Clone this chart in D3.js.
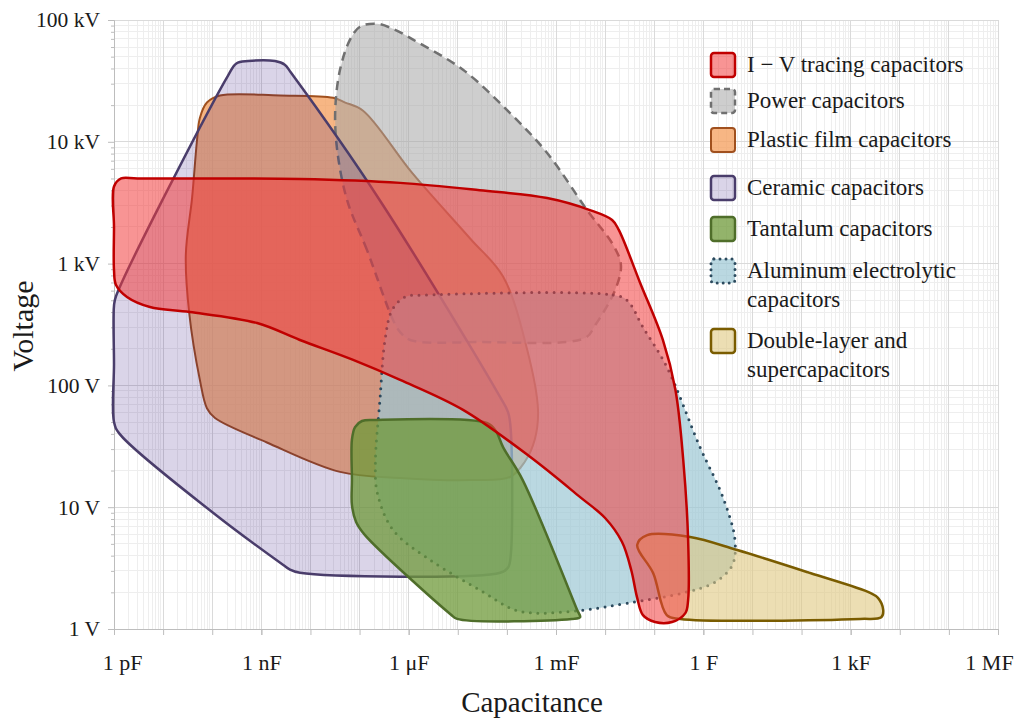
<!DOCTYPE html>
<meta charset="utf-8">
<script src="https://d3js.org/d3.v7.min.js"></script>
<style>
  body { margin: 0; background: #fff; }
  text { font-family: "Liberation Serif", "Times New Roman", serif; fill: #1a1a1a; }
</style>
<div id="my_dataviz"></div>
<script>
// outlines: [capacitance in F, voltage in V]
var ivTracing = [[1e-12, 4.3e3], [1.4e-12, 5.0e3], [3e-12, 5.0e3], [6.1e-9, 4.95e3], [6.7e-7, 4.6e3], [2.8e-5, 4.0e3],
  [6.6e-4, 3.45e3], [4.9e-3, 2.75e3], [1.39e-2, 2.28e3], [1.9e-2, 1.89e3], [5.2e-2, 690], [0.15, 236],
  [0.27, 92], [0.39, 24.4], [0.49, 5.4], [0.49, 1.73], [0.43, 1.35], [0.23, 1.14], [0.104, 1.14],
  [5.9e-2, 1.3], [4.5e-2, 1.8], [3.4e-2, 3.05], [2.2e-2, 5.2], [1e-2, 8.15], [3.1e-3, 12.1], [3.0e-4, 25.8],
  [1.28e-5, 63], [6.7e-7, 111], [7.4e-8, 162], [6.1e-9, 236], [8.2e-10, 325], [3.5e-11, 401],
  [5.4e-12, 440], [1.84e-12, 532], [1.1e-12, 667], [1e-12, 884], [1e-12, 2.0e3]];

var powerCaps = [[4.8e-7, 344], [1.42e-7, 1.29e3], [5.6e-8, 3.3e3], [3.5e-8, 8.6e3], [3.2e-8, 1.82e4],
  [4.0e-8, 3.9e4], [6.4e-8, 6.9e4], [1.02e-7, 8.8e4], [2.3e-7, 9.3e4], [5.3e-7, 8.3e4], [1.23e-6, 6.9e4],
  [1.28e-5, 3.9e4], [1.16e-4, 1.72e4], [6.6e-4, 8.1e3], [4.3e-3, 2.75e3], [1.46e-2, 1.42e3],
  [2.1e-2, 970], [1.6e-2, 607], [6.3e-3, 313], [3.9e-3, 245], [2.8e-5, 227], [1.07e-6, 236], [6.7e-7, 274]];

var plasticFilm = [[7.8e-11, 2.1e4], [1.44e-10, 2.4e4], [2.4e-9, 2.4e4], [2.9e-8, 2.3e4], [5.1e-8, 2.1e4],
  [1.18e-7, 1.8e4], [1.2e-6, 5.5e3], [1.8e-5, 1.6e3], [8.4e-5, 780], [2.6e-4, 195], [4.3e-4, 63],
  [3.7e-4, 36], [2.3e-4, 23.5], [1.16e-4, 17.7], [1.8e-5, 16.7], [6.7e-7, 17.4], [4.0e-8, 19.5],
  [1.3e-9, 34], [1.14e-10, 54], [7.8e-11, 65], [5.6e-11, 111], [3.4e-11, 393], [2.9e-11, 1.18e3],
  [3.9e-11, 3.5e3], [4.9e-11, 1.03e4], [5.6e-11, 1.57e4]];

var ceramic = [[1e-12, 450], [1.1e-12, 540], [2.1e-10, 3.5e4], [3.1e-10, 4.4e4], [5.4e-10, 4.6e4],
  [1.9e-9, 4.6e4], [3.0e-9, 4.3e4], [4.0e-9, 3.7e4], [2.6e-7, 3.3e3], [7.3e-5, 80], [1.06e-4, 60],
  [1.2e-4, 43], [1.2e-4, 4.05], [1.06e-4, 3.2], [7.3e-5, 2.9], [6.1e-9, 2.9], [3.7e-9, 3.1],
  [2.8e-9, 3.35], [1.04e-10, 9.0], [1.3e-12, 40], [1e-12, 50], [1e-12, 150]];

var tantalum = [[7.0e-8, 36], [8.1e-8, 45.5], [1.12e-7, 51], [2.1e-7, 52], [4.0e-5, 49], [6.0e-5, 42],
  [8.4e-5, 31], [2.1e-4, 16.7], [2.7e-3, 1.43], [3.1e-3, 1.25], [2.1e-3, 1.21], [9.7e-6, 1.21],
  [7.0e-6, 1.33], [1.29e-7, 5.9], [8.5e-8, 7.56], [7.0e-8, 10.4], [7.0e-8, 16.7]];

var aluminum = [[2.4e-6, 552], [1.46e-2, 552], [2.8e-2, 500], [5.9e-2, 301], [0.18, 142], [0.86, 31],
  [2.5, 12.1], [4.4, 5.4], [3.9, 3.35], [1.74, 2.43], [0.39, 1.98], [2.8e-2, 1.63], [3.6e-3, 1.43],
  [4.1e-4, 1.35], [1.47e-4, 1.43], [2.8e-5, 2.09], [2.7e-6, 3.7], [4.8e-7, 6.5], [2.3e-7, 13.1],
  [2.1e-7, 23], [2.6e-7, 76], [3.3e-7, 236], [4.6e-7, 416], [8.5e-7, 532]];

var doubleLayer = [[4.5e-2, 4.9], [7.2e-2, 5.9], [0.54, 5.7], [4.9, 4.45], [150, 2.88], [2.5e3, 1.98],
  [3.6e3, 1.8], [4.6e3, 1.43], [4.2e3, 1.25], [1.56e3, 1.21], [0.34, 1.21], [0.18, 1.3], [9.5e-2, 2.88]];

var seriesNames = ["I − V tracing capacitors", "Power capacitors", "Plastic film capacitors",
  "Ceramic capacitors", "Tantalum capacitors", "Aluminum electrolytic capacitors",
  "Double-layer and supercapacitors"];
var legendLines = [["I − V tracing capacitors"], ["Power capacitors"], ["Plastic film capacitors"],
  ["Ceramic capacitors"], ["Tantalum capacitors"], ["Aluminum electrolytic", "capacitors"],
  ["Double-layer and", "supercapacitors"]];

var xTickValues = [1e-12, 1e-9, 1e-6, 1e-3, 1, 1e3, 1e6];
var xTickLabels = ["1 pF", "1 nF", "1 μF", "1 mF", "1 F", "1 kF", "1 MF"];
var yTickValues = [1, 10, 100, 1e3, 1e4, 1e5];
var yTickLabels = ["1 V", "10 V", "100 V", "1 kV", "10 kV", "100 kV"];

// styles, same order as seriesNames
var styles = [
  {fill: "#f23c3c", op: 0.55, stroke: "#c00000", width: 2.5, dash: null},
  {fill: "#a6a6a6", op: 0.55, stroke: "#707070", width: 2.5, dash: "9,6"},
  {fill: "#f5a262", op: 0.78, stroke: "#a0501e", width: 2, dash: null},
  {fill: "#250278", op: 0.17, stroke: "#4a3d6b", width: 2.5, dash: null},
  {fill: "#6f9a3a", op: 0.75, stroke: "#4f6e2a", width: 2.5, dash: null},
  {fill: "#9cc8d4", op: 0.7, stroke: "#2c4a5e", width: 3, dash: "0,7.5", cap: "round"},
  {fill: "#e0c880", op: 0.6, stroke: "#7a5c00", width: 2.5, dash: null}
];
var outlines = [ivTracing, powerCaps, plasticFilm, ceramic, tantalum, aluminum, doubleLayer];
var drawOrder = [2, 1, 3, 5, 4, 6, 0];

var margin = {top: 20, left: 114},
    width = 884,
    height = 609;
// small horizontal nudges of the bottom labels, as in the picture
var xLabelNudge = [8, 0, 0, 0, 0, 0, -9];

var svg = d3.select("#my_dataviz")
  .append("svg")
  .attr("width", 1018)
  .attr("height", 718);

var g = svg.append("g")
  .attr("transform", "translate(" + margin.left + "," + margin.top + ")");

var x = d3.scaleLog().domain([1e-12, 1e6]).range([0, width]);
var y = d3.scaleLog().domain([1, 1e5]).range([height, 0]);

// grid values (decades and 2..9 in between)
var xMajor = [], xMinor = [], yMajor = [], yMinor = [];
d3.range(-12, 7).forEach(function(e) {
  xMajor.push(Math.pow(10, e));
  if (e < 6) d3.range(2, 10).forEach(function(k) { xMinor.push(k * Math.pow(10, e)); });
});
d3.range(0, 6).forEach(function(e) {
  yMajor.push(Math.pow(10, e));
  if (e < 5) d3.range(2, 10).forEach(function(k) { yMinor.push(k * Math.pow(10, e)); });
});

var grid = g.append("g").attr("shape-rendering", "crispEdges");
grid.selectAll(".xmin").data(xMinor).enter().append("line")
  .attr("x1", function(d) { return x(d); }).attr("x2", function(d) { return x(d); })
  .attr("y1", 0).attr("y2", height).attr("stroke", "#eeeeee");
grid.selectAll(".ymin").data(yMinor).enter().append("line")
  .attr("y1", function(d) { return y(d); }).attr("y2", function(d) { return y(d); })
  .attr("x1", 0).attr("x2", width).attr("stroke", "#eeeeee");
grid.selectAll(".xmaj").data(xMajor).enter().append("line")
  .attr("x1", function(d) { return x(d); }).attr("x2", function(d) { return x(d); })
  .attr("y1", 0).attr("y2", height).attr("stroke", "#dadada");
grid.selectAll(".ymaj").data(yMajor).enter().append("line")
  .attr("y1", function(d) { return y(d); }).attr("y2", function(d) { return y(d); })
  .attr("x1", 0).attr("x2", width).attr("stroke", "#dadada");

// axes
function styleAxis(sel) {
  sel.selectAll("path, line").attr("stroke", "#bdbdbd");
  sel.selectAll("text").attr("fill", "#1a1a1a").style("font-family", "'Liberation Serif', serif");
  sel.attr("font-size", 22);
}
g.append("g").attr("transform", "translate(0," + height + ")")
  .call(d3.axisBottom(x).tickValues(xMajor).tickSize(6).tickSizeOuter(0).tickFormat(""))
  .call(styleAxis);
var xLab = g.append("g").attr("transform", "translate(0," + height + ")")
  .call(d3.axisBottom(x).tickValues(xTickValues).tickSize(6).tickSizeOuter(0).tickPadding(19)
    .tickFormat(function(d, i) { return xTickLabels[i]; }))
  .call(styleAxis);
xLab.selectAll(".tick text").attr("dx", function(d, i) { return xLabelNudge[i]; });
g.append("g")
  .call(d3.axisLeft(y).tickValues(yMinor).tickSize(3).tickSizeOuter(0).tickFormat(""))
  .call(styleAxis);
g.append("g")
  .call(d3.axisLeft(y).tickValues(yTickValues).tickSize(6).tickSizeOuter(0).tickPadding(8)
    .tickFormat(function(d, i) { return yTickLabels[i]; }))
  .call(styleAxis)
  .attr("font-size", 21.5);

// shapes
g.append("clipPath").attr("id", "plot-clip")
  .append("rect").attr("x", -3).attr("y", -3).attr("width", width + 6).attr("height", height + 6);

var outline = d3.line()
  .x(function(d) { return x(d[0]); })
  .y(function(d) { return y(d[1]); })
  .curve(d3.curveCatmullRomClosed.alpha(0.5));

var shapes = g.append("g").attr("clip-path", "url(#plot-clip)");
drawOrder.forEach(function(i) {
  var s = styles[i];
  shapes.append("path")
    .datum(outlines[i])
    .attr("d", outline)
    .attr("fill", s.fill)
    .attr("fill-opacity", s.op)
    .attr("stroke", s.stroke)
    .attr("stroke-width", s.width)
    .attr("stroke-linejoin", "round")
    .attr("stroke-linecap", s.cap || "butt")
    .attr("stroke-dasharray", s.dash);
});

// axis titles
svg.append("text")
  .attr("x", 532).attr("y", 712)
  .attr("text-anchor", "middle")
  .attr("font-size", 29)
  .text("Capacitance");
svg.append("text")
  .attr("transform", "translate(33,326) rotate(-90)")
  .attr("text-anchor", "middle")
  .attr("font-size", 30)
  .text("Voltage");

// legend
var legendTops = [52, 88, 127, 175, 216, 258, 328];
var legend = svg.append("g");
seriesNames.forEach(function(name, i) {
  var s = styles[i];
  var item = legend.append("g").attr("transform", "translate(710," + legendTops[i] + ")");
  item.append("rect")
    .attr("x", 1).attr("y", 1).attr("width", 24).attr("height", 24).attr("rx", 3)
    .attr("fill", s.fill).attr("fill-opacity", s.op)
    .attr("stroke", s.stroke).attr("stroke-width", s.width)
    .attr("stroke-linecap", s.cap || "butt")
    .attr("stroke-dasharray", s.dash ? (s.cap ? "0,6" : "6,4") : null);
  legendLines[i].forEach(function(line, j) {
    item.append("text")
      .attr("x", 37).attr("y", 20 + j * 29)
      .attr("font-size", 23)
      .text(line);
  });
});
</script>
